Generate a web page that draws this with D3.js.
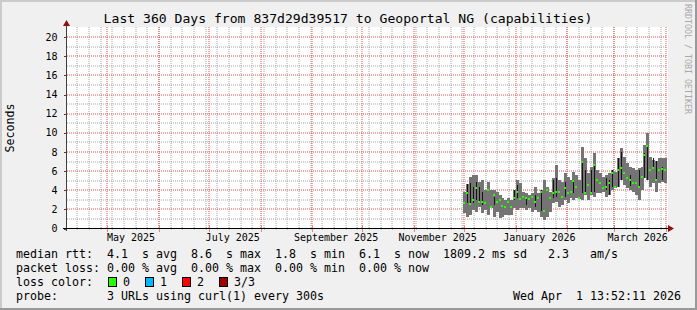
<!DOCTYPE html>
<html lang="en">
<head>
    <meta charset="UTF-8">
    <title>Last 360 Days from 837d29d39517 to Geoportal NG (capabilities)</title>
    <script src="https://d3js.org/d3.v7.min.js"></script>
    <style>
        html, body {
            margin: 0;
            padding: 0;
            background-color: #f0f0f0;
        }

        svg {
            display: block;
            font-family: "DejaVu Sans Mono", monospace;
        }

        .legend text {
            font-size: 11.63px;
            white-space: pre;
        }
    </style>
</head>
<body>
    <div id="chart"></div>
    <script>
        // time range of the graph (UTC)
        const endTime = Date.UTC(2026, 3, 1, 13, 52, 11);
        const startTime = endTime - 360 * 864e5;

        // samples: one every ~1.775 days starting at the end of November
        const firstSample = Date.UTC(2025, 10, 30, 12);
        const sampleDays = 1.775;

        const medianRtt = [2.63, 3.75, 2.53, 2.98, 4.2, 2.8, 2.8, 2.7, 4.02, 2.28,
            3.5, 2.8, 2.98, 2.35, 2.2, 2.8, 2.2, 3.15, 3.85, 3.05,
            3.33, 3.15, 3.05, 3.25, 2.8, 3.15, 3.85, 1.83, 4.02, 3.15,
            3.68, 3.85, 3.85, 3.33, 4.2, 3.68, 3.85, 4.97, 4.37, 3.15,
            6.98, 3.68, 4.55, 3.68, 6.63, 5.07, 4.72, 4.2, 4.37, 4.72,
            5.77, 4.37, 6.1, 6.29, 5.77, 5.24, 5.07, 4.72, 4.72, 4.37,
            5.41, 7.68, 8.62, 6.1, 6.29, 5.07, 6.1, 6.18, 6.1];

        const maxRtt = [3.85, 4.7, 5.41, 5.59, 5.59, 4.89, 5.07, 4.02, 4.89, 4.02,
            4.02, 3.85, 3.5, 3.15, 2.98, 3.15, 2.98, 4.02, 5.07, 4.72,
            3.85, 3.68, 3.5, 3.68, 4.37, 3.68, 4.02, 5.07, 4.37, 3.85,
            5.24, 6.63, 5.07, 4.89, 5.77, 5.41, 5.07, 5.93, 5.59, 5.07,
            8.5, 7.33, 5.77, 6.46, 7.86, 6.1, 5.77, 5.41, 5.59, 5.77,
            6.1, 5.93, 7.4, 8.38, 7.5, 6.8, 6.46, 6.29, 6.1, 6.29,
            6.46, 8.73, 9.95, 7.5, 7.16, 7.1, 7.33, 7.33, 7.33];

        const minRtt = [1.59, 1.24, 1.41, 1.93, 1.76, 2.28, 1.59, 1.93, 1.41, 2.1,
            1.24, 1.76, 1.06, 1.24, 1.41, 1.41, 1.41, 2.1, 1.93, 2.1,
            2.1, 1.93, 2.1, 1.76, 1.93, 1.76, 1.24, 0.9, 1.24, 1.76,
            2.63, 2.8, 2.28, 2.46, 2.98, 2.63, 3.15, 2.98, 3.15, 3.1,
            2.98, 3.5, 2.98, 3.5, 3.33, 3.68, 3.68, 3.85, 3.33, 3.5,
            4.02, 4.2, 4.3, 5.07, 4.55, 4.2, 4.02, 3.85, 3.5, 2.98,
            4.02, 5.24, 5.07, 4.37, 4.72, 3.85, 4.72, 4.89, 4.72];

        // darker inner smoke (null = none in that column)
        const darkHi = [null, 4.7, 4.72, 4.37, 4.9, 4.37, 3.85, null, null, null,
            3.3, null, null, null, null, null, null, 4.0, 4.55, null,
            null, 3.3, null, null, 3.5, null, 4.02, null, null, null,
            5.07, 5.24, null, null, 4.89, null, null, 4.89, null, null,
            7.0, 6.1, null, 6.1, 6.63, null, null, null, 5.24, 5.07,
            6.1, null, 7.36, 8.03, null, null, 5.6, null, null, 6.1,
            null, 7.86, 8.73, null, 7.33, 7.1, null, 6.46, null];

        const darkLo = [null, 2.7, 2.46, 2.63, 3.0, 2.63, 2.46, null, null, null,
            2.46, null, null, null, null, null, null, 2.98, 3.15, null,
            null, 2.46, null, null, 2.28, null, 1.8, null, null, null,
            3.15, 3.33, null, null, 3.33, null, null, 3.68, null, null,
            3.68, 3.68, null, 3.85, 3.85, null, null, null, 4.02, 3.5,
            4.37, null, 4.37, 5.1, null, null, 4.4, null, null, 4.4,
            null, 5.24, 5.07, null, 6.29, 5.2, null, 5.07, null];

        const yTicks = [0, 2, 4, 6, 8, 10, 12, 14, 16, 18, 20];
        const yMinor = [1, 3, 5, 7, 9, 11, 13, 15, 17, 19];
        const monthLabels = ["May 2025", "July 2025", "September 2025", "November 2025", "January 2026", "March 2026"];
        const monthLabelDates = [Date.UTC(2025, 4, 1), Date.UTC(2025, 6, 1), Date.UTC(2025, 8, 1),
            Date.UTC(2025, 10, 1), Date.UTC(2026, 0, 1), Date.UTC(2026, 2, 1)];

        const lossLabels = ["0", "1", "2", "3/3"];
        const lossColors = ["#26ff00", "#00b8ff", "#ff0000", "#a00000"];

        const width = 697;
        const height = 310;

        const svg = d3.select("#chart")
            .append("svg")
            .attr("width", width)
            .attr("height", height);

        // background + 3d frame
        svg.append("rect").attr("width", width).attr("height", height).attr("fill", "#f0f0f0");
        svg.append("rect").attr("x", 0).attr("y", 0).attr("width", width).attr("height", 2).attr("fill", "#cbcbcb");
        svg.append("rect").attr("x", 0).attr("y", 0).attr("width", 2).attr("height", height).attr("fill", "#cbcbcb");
        svg.append("rect").attr("x", 0).attr("y", height - 2).attr("width", width).attr("height", 2).attr("fill", "#999999");
        svg.append("rect").attr("x", width - 2).attr("y", 0).attr("width", 2).attr("height", height).attr("fill", "#999999");

        const xScale = d3.scaleUtc().domain([startTime, endTime]).range([66.5, 666.5]);
        const yScale = d3.scaleLinear().domain([0, 21]).range([228.5, 27.5]);

        // canvas
        svg.append("rect")
            .attr("x", 67).attr("y", 27)
            .attr("width", 601).attr("height", 201)
            .attr("fill", "#ffffff");

        // grid lines sit on whole pixels, so they smear over two pixel rows like rrdtool's
        const gx = t => Math.round(xScale(t));
        const gy = v => Math.round(yScale(v));

        const weeks = d3.utcSunday.range(new Date(startTime), new Date(endTime));
        const months = d3.utcMonth.range(new Date(startTime), new Date(endTime));

        // minor grid (dotted grey)
        const minorGrid = svg.append("g")
            .attr("stroke", "#a4a4a4")
            .attr("stroke-width", 1)
            .attr("stroke-dasharray", "1 1");
        minorGrid.selectAll("line.v").data(weeks).join("line")
            .attr("class", "v")
            .attr("x1", gx).attr("x2", gx)
            .attr("y1", 27).attr("y2", 228);
        minorGrid.selectAll("line.h").data(yMinor).join("line")
            .attr("class", "h")
            .attr("x1", 67).attr("x2", 667)
            .attr("y1", gy).attr("y2", gy);

        // major grid (dotted red)
        const majorGrid = svg.append("g")
            .attr("stroke", "#e65050")
            .attr("stroke-width", 1)
            .attr("stroke-dasharray", "1 1");
        majorGrid.selectAll("line.v").data(months).join("line")
            .attr("class", "v")
            .attr("x1", gx).attr("x2", gx)
            .attr("y1", 27).attr("y2", 228);
        majorGrid.selectAll("line.h").data(yTicks.slice(1)).join("line")
            .attr("class", "h")
            .attr("x1", 67).attr("x2", 667)
            .attr("y1", gy).attr("y2", gy);

        // smoke
        const samples = medianRtt.map((m, i) => ({
            t: firstSample + i * sampleDays * 864e5,
            med: m, hi: maxRtt[i], lo: minRtt[i],
            dhi: darkHi[i], dlo: darkLo[i]
        }));

        const smoke = svg.append("g").attr("shape-rendering", "crispEdges");
        smoke.selectAll("rect.smoke").data(samples).join("rect")
            .attr("class", "smoke")
            .attr("x", d => Math.round(xScale(d.t)))
            .attr("width", 3)
            .attr("y", d => Math.round(yScale(d.hi)))
            .attr("height", d => Math.round(yScale(d.lo)) - Math.round(yScale(d.hi)))
            .attr("fill", "#747474");

        smoke.selectAll("rect.dark").data(samples.filter(d => d.dhi !== null)).join("rect")
            .attr("class", "dark")
            .attr("x", d => Math.round(xScale(d.t)) + 1)
            .attr("width", 1)
            .attr("y", d => Math.round(yScale(d.dhi)))
            .attr("height", d => Math.round(yScale(d.dlo)) - Math.round(yScale(d.dhi)))
            .attr("fill", "#141414");

        smoke.selectAll("rect.median").data(samples).join("rect")
            .attr("class", "median")
            .attr("x", d => Math.round(xScale(d.t)))
            .attr("width", 2)
            .attr("y", d => Math.round(yScale(d.med)) - 1)
            .attr("height", 2)
            .attr("fill", lossColors[0]);

        // axes
        const axes = svg.append("g").attr("shape-rendering", "crispEdges");
        axes.selectAll("line.xminor").data(weeks).join("line")
            .attr("class", "xminor")
            .attr("x1", d => gx(d) + 0.5).attr("x2", d => gx(d) + 0.5)
            .attr("y1", 227).attr("y2", 230)
            .attr("stroke", "#c0c0c0");
        axes.selectAll("line.xmajor").data(months).join("line")
            .attr("class", "xmajor")
            .attr("x1", d => gx(d) + 0.5).attr("x2", d => gx(d) + 0.5)
            .attr("y1", 226).attr("y2", 232)
            .attr("stroke", "#f08080");

        axes.append("line")
            .attr("x1", 66.5).attr("x2", 66.5)
            .attr("y1", 26).attr("y2", 231)
            .attr("stroke", "#404040");
        axes.append("line")
            .attr("x1", 63).attr("x2", 669)
            .attr("y1", 228.5).attr("y2", 228.5)
            .attr("stroke", "#000000");

        svg.append("path")
            .attr("d", "M668,225 L674,228.5 L668,232 Z")
            .attr("fill", "#8b1010");
        svg.append("path")
            .attr("d", "M63,26 L66.5,20 L70,26 Z")
            .attr("fill", "#8b1010");

        const yAxis = d3.axisLeft(yScale)
            .tickValues(yTicks)
            .tickSize(3)
            .tickPadding(6)
            .tickFormat(d3.format("d"));

        const yAxisG = svg.append("g")
            .attr("transform", "translate(66.5,0)")
            .call(yAxis);
        yAxisG.select(".domain").remove();
        yAxisG.selectAll(".tick line").attr("stroke", "#404040").attr("shape-rendering", "crispEdges");
        yAxisG.selectAll(".tick text")
            .attr("font-family", "DejaVu Sans Mono")
            .attr("font-size", "10px")
            .attr("fill", "#000");

        const xAxis = d3.axisBottom(xScale)
            .tickValues(monthLabelDates.map(t => t + 14 * 864e5))
            .tickSize(0)
            .tickPadding(5)
            .tickFormat((d, i) => monthLabels[i]);

        const xAxisG = svg.append("g")
            .attr("transform", "translate(0,228.5)")
            .call(xAxis);
        xAxisG.select(".domain").remove();
        xAxisG.selectAll(".tick text")
            .attr("font-family", "DejaVu Sans Mono")
            .attr("font-size", "10px")
            .attr("fill", "#000");

        // title and side texts
        svg.append("text")
            .attr("x", 348).attr("y", 23)
            .attr("text-anchor", "middle")
            .attr("font-size", "13.1px")
            .attr("fill", "#000")
            .text("Last 360 Days from 837d29d39517 to Geoportal NG (capabilities)");

        svg.append("text")
            .attr("transform", "translate(14,128) rotate(-90)")
            .attr("text-anchor", "middle")
            .attr("font-size", "11.63px")
            .attr("fill", "#000")
            .text("Seconds");

        svg.append("text")
            .attr("transform", "translate(685,4) rotate(90)")
            .attr("font-size", "8.3px")
            .attr("fill", "#a8a8a8")
            .text("RRDTOOL / TOBI OETIKER");

        // legend
        const legend = svg.append("g").attr("class", "legend");
        const legendRows = [
            "median rtt:  4.1  s avg  8.6  s max  1.8  s min  6.1  s now  1809.2 ms sd   2.3   am/s",
            "packet loss: 0.00 % avg  0.00 % max  0.00 % min  0.00 % now",
            "loss color:",
            "probe:       3 URLs using curl(1) every 300s"
        ];
        legend.selectAll("text.row").data(legendRows).join("text")
            .attr("class", "row")
            .attr("x", 16)
            .attr("y", (d, i) => 258 + i * 14)
            .attr("fill", "#000")
            .text(d => d);

        const lossX = [108, 145, 182, 219];
        lossLabels.forEach((label, i) => {
            legend.append("rect")
                .attr("x", lossX[i] + 0.5).attr("y", 277.5)
                .attr("width", 8).attr("height", 9)
                .attr("fill", lossColors[i])
                .attr("stroke", "#000")
                .attr("shape-rendering", "crispEdges");
            legend.append("text")
                .attr("x", lossX[i] + 15)
                .attr("y", 286)
                .attr("fill", "#000")
                .text(label);
        });

        legend.append("text")
            .attr("x", 681).attr("y", 300)
            .attr("text-anchor", "end")
            .attr("fill", "#000")
            .text("Wed Apr  1 13:52:11 2026");
    </script>
</body>
</html>
